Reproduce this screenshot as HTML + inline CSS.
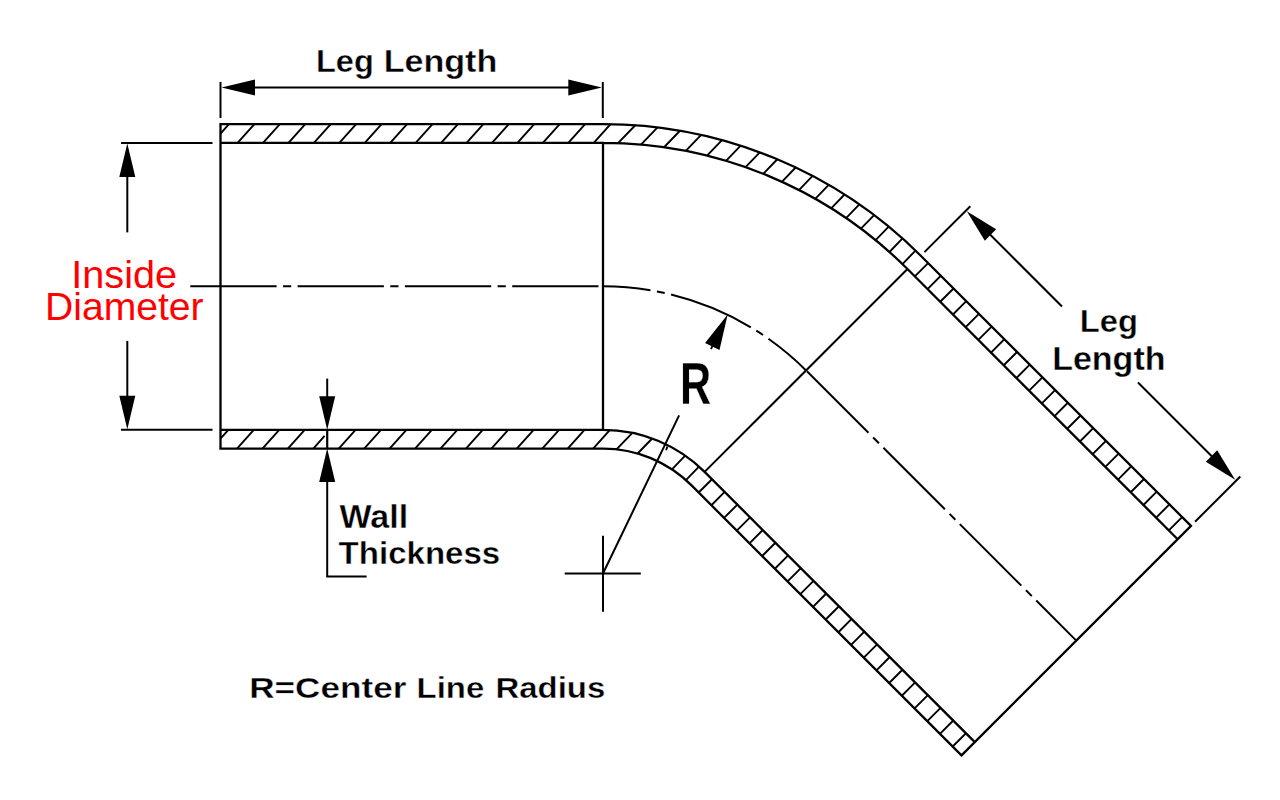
<!DOCTYPE html>
<html><head><meta charset="utf-8"><style>
html,body{margin:0;padding:0;background:#fff;width:1280px;height:800px;overflow:hidden}
svg{display:block}
text{font-family:"Liberation Sans",sans-serif}
</style></head><body>
<svg width="1280" height="800" viewBox="0 0 1280 800">
<rect width="1280" height="800" fill="#fff"/>
<g stroke="#000" stroke-linecap="butt" fill="none">
<line x1="704.61" y1="471.89" x2="907.48" y2="269.02" stroke-width="2"/>
<path d="M220.5 124.1H603A449.4 449.4 0 0 1 920.77 255.73L1190.96 525.91M220.5 142.9H603A430.6 430.6 0 0 1 907.48 269.02L1177.67 539.21M220.5 429.8H603A143.7 143.7 0 0 1 704.61 471.89L974.8 742.07M220.5 448.6H603A124.9 124.9 0 0 1 691.32 485.18L961.5 755.37M220.5 124.1V448.6M1190.96 525.91L961.5 755.37M603 142.9V429.8" stroke-width="2.3" fill="none" stroke-linecap="square"/>
<path d="M220.5 133.57L228.96 124.1M237.6 142.9L254.4 124.1M263.04 142.9L279.84 124.1M288.48 142.9L305.28 124.1M313.92 142.9L330.72 124.1M339.36 142.9L356.16 124.1M364.8 142.9L381.6 124.1M390.24 142.9L407.04 124.1M415.68 142.9L432.48 124.1M441.12 142.9L457.92 124.1M466.56 142.9L483.36 124.1M492 142.9L508.8 124.1M517.44 142.9L534.24 124.1M542.88 142.9L559.68 124.1M568.32 142.9L585.12 124.1M593.76 142.9L610.56 124.1M220.5 438.6L228.36 429.8M237 448.6L253.8 429.8M262.44 448.6L279.24 429.8M287.88 448.6L304.68 429.8M313.32 448.6L324.6 435.98M338.76 448.6L355.56 429.8M364.2 448.6L381 429.8M389.64 448.6L406.44 429.8M415.08 448.6L431.88 429.8M440.52 448.6L457.32 429.8M465.96 448.6L482.76 429.8M491.4 448.6L508.2 429.8M516.84 448.6L533.64 429.8M542.28 448.6L559.08 429.8M567.72 448.6L584.52 429.8M593.16 448.6L609.96 429.8M618.03 143.16L635.31 125.26M640.98 144.58L657.55 127.42M664.04 147.25L679.98 130.74M685.75 150.93L701.18 134.95M707.03 155.65L722 140.14M726.02 160.85L740.65 145.7M745.53 167.17L759.84 152.36M763.26 173.83L777.31 159.28M781.84 181.8L795.66 167.49M798.96 190.07L812.58 175.96M815.23 198.84L828.7 184.89M831.18 208.33L844.52 194.52M846.09 218.08L859.33 204.37M860.94 228.71L874.1 215.08M875.62 240.19L888.72 226.62M889.45 252L902.52 238.46M902.44 264.07L915.5 250.54M616.49 449.33L632.41 432.84M637.64 453.5L652.15 438.47M671.94 469.35L685.19 455.62M685.92 480.1L698.99 466.57M666.1 450.2L667.4 446.6M914.83 276.37L928.13 263.08M698.67 492.54L711.97 479.24M927.53 289.07L940.83 275.78M711.37 505.24L724.66 491.94M940.23 301.77L953.53 288.48M724.07 517.94L737.36 504.64M952.93 314.47L966.23 301.18M736.77 530.64L750.06 517.34M965.63 327.17L978.93 313.88M749.47 543.33L762.76 530.04M978.33 339.87L991.63 326.58M762.17 556.03L775.46 542.74M991.03 352.57L1004.33 339.28M774.87 568.73L788.16 555.44M1003.73 365.27L1017.03 351.98M787.57 581.43L800.86 568.14M1016.43 377.97L1029.72 364.68M800.27 594.13L813.56 580.84M1029.13 390.67L1042.42 377.38M812.97 606.83L826.26 593.54M1041.83 403.37L1055.12 390.08M825.67 619.53L838.96 606.24M1054.53 416.07L1067.82 402.78M838.37 632.23L851.66 618.94M1067.23 428.77L1080.52 415.48M851.07 644.93L864.36 631.64M1079.93 441.47L1093.22 428.18M863.77 657.63L877.06 644.34M1092.63 454.17L1105.92 440.88M876.47 670.33L889.76 657.04M1105.33 466.87L1118.62 453.57M889.17 683.03L902.46 669.74M1118.03 479.57L1131.32 466.27M901.87 695.73L915.16 682.44M1130.73 492.27L1144.02 478.97M914.57 708.43L927.86 695.14M1143.43 504.97L1156.72 491.67M927.27 721.13L940.56 707.84M1156.13 517.67L1169.42 504.37M939.96 733.83L953.26 720.54M1168.83 530.37L1182.12 517.07M952.66 746.53L965.96 733.24" stroke-width="1.9" fill="none"/>
<path d="M190.3 286.3H603" stroke-width="2.0" fill="none" stroke-dasharray="86.3 6.4 8.2 6.4"/>
<path d="M603 286.3A287.2 287.2 0 0 1 806.08 370.42" stroke-width="2.0" fill="none" stroke-dasharray="86.5 6.5 8 6.5" stroke-dashoffset="38.8"/>
<path d="M806.08 370.42L1076.27 640.6" stroke-width="2.0" fill="none" stroke-dasharray="87 6.6 8.2 6.3" stroke-dashoffset="-1.2"/>
<line x1="220.5" y1="82" x2="220.5" y2="118" stroke-width="2.0"/>
<line x1="602.8" y1="82" x2="602.8" y2="118" stroke-width="2.0"/>
<line x1="250" y1="87.5" x2="572" y2="87.5" stroke-width="2.0"/>
<path d="M221.5 87.5L255 79.5L255 95.5Z" stroke="none" fill="#000"/>
<path d="M601.8 87.5L568.3 95.5L568.3 79.5Z" stroke="none" fill="#000"/>
<line x1="121" y1="142.9" x2="212.5" y2="142.9" stroke-width="2.0"/>
<line x1="121" y1="429.8" x2="212.5" y2="429.8" stroke-width="2.0"/>
<line x1="127.3" y1="170" x2="127.3" y2="232.4" stroke-width="2.0"/>
<line x1="127.3" y1="340.9" x2="127.3" y2="400" stroke-width="2.0"/>
<path d="M127.3 143.4L135.3 176.9L119.3 176.9Z" stroke="none" fill="#000"/>
<path d="M127.3 429.3L119.3 395.8L135.3 395.8Z" stroke="none" fill="#000"/>
<line x1="327.2" y1="378.6" x2="327.2" y2="400" stroke-width="2.0"/>
<path d="M327.2 429.8L319.2 396.3L335.2 396.3Z" stroke="none" fill="#000"/>
<line x1="327.2" y1="478" x2="327.2" y2="576.4" stroke-width="2.0"/>
<line x1="327.2" y1="429.8" x2="327.2" y2="448.6" stroke-width="2.2"/>
<path d="M327.2 448.6L335.2 482.1L319.2 482.1Z" stroke="none" fill="#000"/>
<line x1="326.2" y1="576.4" x2="366.6" y2="576.4" stroke-width="2.0"/>
<line x1="564.7" y1="573.5" x2="640.8" y2="573.5" stroke-width="2.0"/>
<line x1="603" y1="535.7" x2="603" y2="611.7" stroke-width="2.0"/>
<line x1="603" y1="573.5" x2="679.11" y2="415.36" stroke-width="2.0"/>
<path d="M727.68 314.44L719.49 349.9L705.07 342.96Z" stroke="none" fill="#000"/>
<line x1="712.5" y1="345.98" x2="710.98" y2="349.13" stroke-width="1.8"/>
<line x1="924.4" y1="252.1" x2="970.3" y2="206.2" stroke-width="2.0"/>
<line x1="1195" y1="521.8" x2="1240.3" y2="476.5" stroke-width="2.0"/>
<line x1="985" y1="229.5" x2="1062" y2="306.5" stroke-width="2.0"/>
<line x1="1138" y1="382.5" x2="1216" y2="460.5" stroke-width="2.0"/>
<path d="M966.8 211.3L996.14 229.33L984.83 240.64Z" stroke="none" fill="#000"/>
<path d="M1235.2 479.7L1205.86 461.67L1217.17 450.36Z" stroke="none" fill="#000"/>
</g>
<g fill="#000">
<text x="316.0" y="71.9" font-size="30.6" textLength="57.8" lengthAdjust="spacingAndGlyphs" font-weight="bold" stroke="#fff" stroke-width="0.35">Leg</text>
<text x="383.7" y="71.9" font-size="30.6" textLength="113.6" lengthAdjust="spacingAndGlyphs" font-weight="bold" stroke="#fff" stroke-width="0.35">Length</text>
<text x="71.2" y="288.1" font-size="39.3" textLength="106.0" lengthAdjust="spacingAndGlyphs" fill="#f00">Inside</text>
<text x="45.0" y="320.1" font-size="39.3" textLength="158.6" lengthAdjust="spacingAndGlyphs" fill="#f00">Diameter</text>
<text x="680.0" y="403.6" font-size="59" textLength="31.2" lengthAdjust="spacingAndGlyphs" font-weight="bold" stroke="#fff" stroke-width="0.35">R</text>
<text x="339.5" y="527.5" font-size="32.8" textLength="68.6" lengthAdjust="spacingAndGlyphs" font-weight="bold" stroke="#fff" stroke-width="0.35">Wall</text>
<text x="338.6" y="564.2" font-size="31.5" textLength="161.6" lengthAdjust="spacingAndGlyphs" font-weight="bold" stroke="#fff" stroke-width="0.35">Thickness</text>
<text x="1079.8" y="332.4" font-size="30.6" textLength="58.1" lengthAdjust="spacingAndGlyphs" font-weight="bold" stroke="#fff" stroke-width="0.35">Leg</text>
<text x="1052.2" y="369.8" font-size="32.4" textLength="113.3" lengthAdjust="spacingAndGlyphs" font-weight="bold" stroke="#fff" stroke-width="0.35">Length</text>
<text x="249.2" y="698.4" font-size="30" textLength="157.2" lengthAdjust="spacingAndGlyphs" font-weight="bold" stroke="#fff" stroke-width="0.35">R=Center</text>
<text x="416.6" y="698.4" font-size="30" textLength="67.6" lengthAdjust="spacingAndGlyphs" font-weight="bold" stroke="#fff" stroke-width="0.35">Line</text>
<text x="495.5" y="698.4" font-size="30" textLength="109.7" lengthAdjust="spacingAndGlyphs" font-weight="bold" stroke="#fff" stroke-width="0.35">Radius</text>
</g>
</svg>
</body></html>
